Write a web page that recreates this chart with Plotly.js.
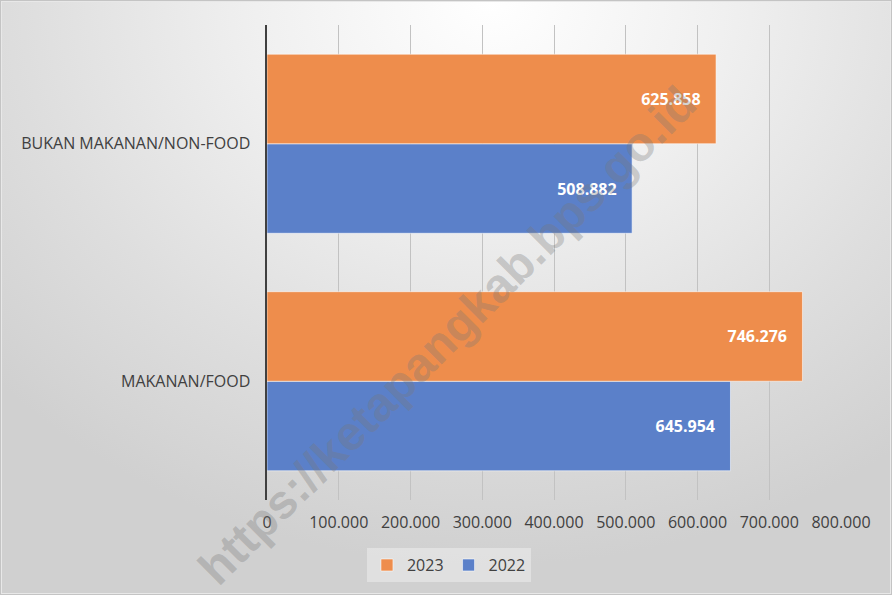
<!DOCTYPE html>
<html>
<head>
<meta charset="utf-8">
<script src="https://cdn.plot.ly/plotly-3.0.1.min.js"></script>
<style>
html,body{margin:0;padding:0;background:#fff;}
#chart{width:892px;height:595px;position:relative;
background:radial-gradient(ellipse 75% 95% at 55% 0%, #ffffff 0%, #f0f0f0 35%, #dedede 70%, #d0d0d0 100%);
box-shadow: inset 0 0 0 1px #c4c4c4, inset 0 0 0 2px #e8e8e8;}
</style>
</head>
<body>
<div id="chart"></div>
<script>
const categories = ["MAKANAN/FOOD", "BUKAN MAKANAN/NON-FOOD"];
const seriesNames = ["2022", "2023"];
const values2022 = [645954, 508882];
const values2023 = [746276, 625858];
const xTickVals = [0, 100000, 200000, 300000, 400000, 500000, 600000, 700000, 800000];
const watermarkText = "https://ketapangkab.bps.go.id";

const FONT = "Open Sans, Noto Sans, sans-serif";
const txtFont = {family: FONT, size: 16, color: "#ffffff", weight: "bold"};
const PAD = "\u00a0\u00a0\u00a0";

const traces = [
  {type: "bar", orientation: "h", name: seriesNames[0], y: categories, x: values2022,
   marker: {color: "#5B80C9", line: {color: "rgba(255,255,255,0.55)", width: 1}},
   texttemplate: "<b>%{x:,}</b>" + PAD, textposition: "inside", insidetextanchor: "end",
   insidetextfont: txtFont, hoverinfo: "none"},
  {type: "bar", orientation: "h", name: seriesNames[1], y: categories, x: values2023,
   marker: {color: "#EE8D4C", line: {color: "rgba(255,255,255,0.55)", width: 1}},
   texttemplate: "<b>%{x:,}</b>" + PAD, textposition: "inside", insidetextanchor: "end",
   insidetextfont: txtFont, hoverinfo: "none"}
];

const layout = {
  width: 892, height: 595,
  paper_bgcolor: "rgba(0,0,0,0)", plot_bgcolor: "rgba(0,0,0,0)",
  margin: {l: 267, r: 51, t: 25, b: 95},
  separators: ",.",
  barmode: "group", bargap: 0.246, bargroupgap: 0,
  font: {family: FONT, size: 16, color: "#404040"},
  xaxis: {range: [0, 800000], tickvals: xTickVals, tickformat: ",", showgrid: true,
    gridcolor: "#c2c2c2", gridwidth: 1, zeroline: false, showline: false,
    ticks: "outside", ticklen: 8, tickcolor: "rgba(0,0,0,0)",
    tickfont: {family: FONT, size: 16, color: "#404040"}},
  yaxis: {type: "category", categoryorder: "array", categoryarray: categories,
    showline: true, linecolor: "#404040", linewidth: 2.5, showgrid: false, zeroline: false,
    ticks: "outside", ticklen: 11, tickcolor: "rgba(0,0,0,0)",
    tickfont: {family: FONT, size: 16, color: "#404040"}},
  showlegend: true,
  legend: {orientation: "h", traceorder: "reversed", x: 0.317, xanchor: "center",
    y: -0.137, yanchor: "middle", bgcolor: "rgba(255,255,255,0.35)",
    font: {family: FONT, size: 16, color: "#404040"}, itemwidth: 30},
  annotations: [{text: "<b>" + watermarkText + "</b>", xref: "paper", yref: "paper",
    x: 0.3136, y: 0.347, xanchor: "center", yanchor: "middle", showarrow: false, textangle: -45,
    font: {family: "Liberation Sans, Arial, sans-serif", size: 48, color: "rgba(120,120,120,0.33)"}}]
};

Plotly.newPlot("chart", traces, layout, {displayModeBar: false, staticPlot: true});
</script>
</body>
</html>
